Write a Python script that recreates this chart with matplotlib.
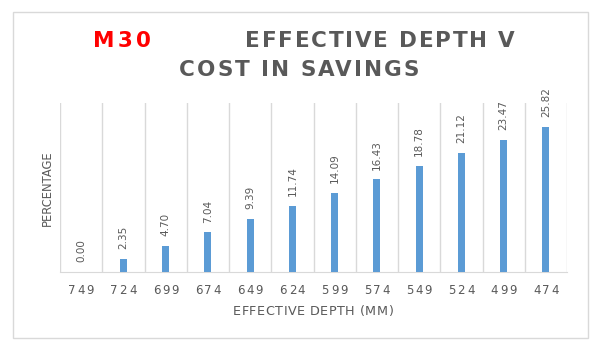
import matplotlib
matplotlib.use("Agg")
import matplotlib.pyplot as plt
from matplotlib.patches import Rectangle
from matplotlib.transforms import offset_copy

depths = ["749", "724", "699", "674", "649", "624", "599", "574", "549", "524", "499", "474"]
savings = [0.00, 2.35, 4.70, 7.04, 9.39, 11.74, 14.09, 16.43, 18.78, 21.12, 23.47, 25.82]
labels = ["0.00", "2.35", "4.70", "7.04", "9.39", "11.74", "14.09", "16.43", "18.78", "21.12", "23.47", "25.82"]

W, H = 602, 353
fig = plt.figure(figsize=(W/100, H/100), dpi=100)
fig.patch.set_facecolor("white")
renderer = fig.canvas.get_renderer()


def text_width(s, **kw):
    t = fig.text(0, 0, s, **kw)
    w = t.get_window_extent(renderer).width
    t.remove()
    return w


def spaced_text(x, y, s, transform, target_width, dy=0, **kw):
    """Draw string s centred at (x, y) with extra letter spacing so that it spans target_width px."""
    natural = text_width(s, **kw)
    n = len(s)
    spacing = (target_width - natural) / max(n - 1, 1)
    total = natural + spacing * (n - 1)
    for i, ch in enumerate(s):
        if ch == " ":
            continue
        left = text_width(s[:i + 1], **kw) - text_width(ch, **kw) + i * spacing
        tr = offset_copy(transform, fig=fig, x=left - total / 2, y=dy, units="dots")
        fig.text(x, y, ch, transform=tr, ha="left", va="baseline", **kw)


# outer chart border
fig.add_artist(Rectangle((13/W, 1-338/H), (588-13)/W, (338-12)/H, transform=fig.transFigure,
                         fill=False, edgecolor="#d9d9d9", linewidth=1.0))

ax = fig.add_axes([60/W, 1-272/H, (567-60)/W, (272-103)/H])
x = list(range(len(depths)))
ax.bar(x, savings, width=0.17, color="#5b9bd5", zorder=3)
ax.set_xlim(-0.5, len(depths)-0.5)
ax.set_ylim(0, 30)
ax.set_yticks([])
ax.set_xticks(x)
ax.set_xticklabels([])
ax.tick_params(axis="x", length=0)
ax.set_xticks([i-0.5 for i in range(len(depths)+1)], minor=True)
ax.grid(True, which="minor", axis="x", color="#d9d9d9", linewidth=1.0, zorder=0)
ax.tick_params(axis="x", which="minor", length=0)
for s in ["top", "right", "left"]:
    ax.spines[s].set_visible(False)
ax.spines["bottom"].set_color("#d9d9d9")

# category tick labels with letter spacing
tick_kw = dict(fontsize=8.5, color="#595959", family="DejaVu Sans")
for xi, d in zip(x, depths):
    spaced_text(xi, 0, d, ax.get_xaxis_transform(), 26, dy=-21.5, **tick_kw)

for xi, v, lab in zip(x, savings, labels):
    ax.annotate(lab, (xi, v), xytext=(0, 7), textcoords="offset points",
                rotation=90, ha="center", va="bottom", fontsize=7.5,
                color="#595959", family="DejaVu Sans", annotation_clip=False)

spaced_text(313/W, 1-315/H, "EFFECTIVE DEPTH (MM)", fig.transFigure, 160,
            fontsize=9.2, color="#595959", family="DejaVu Sans")
fig.text(47/W, 1-188/H, "PERCENTAGE", fontsize=8.3, color="#595959", family="DejaVu Sans",
         ha="center", va="center", rotation=90)

title_kw = dict(fontsize=15.5, fontweight="bold", family="DejaVu Sans")
spaced_text(122/W, 1-47/H, "M30", fig.transFigure, 58, color="#ff0000", **title_kw)
spaced_text(380/W, 1-47/H, "EFFECTIVE DEPTH V", fig.transFigure, 270, color="#595959", **title_kw)
spaced_text(299/W, 1-76/H, "COST IN SAVINGS", fig.transFigure, 240, color="#595959", **title_kw)

fig.savefig("out.png", dpi=100, facecolor="white")
